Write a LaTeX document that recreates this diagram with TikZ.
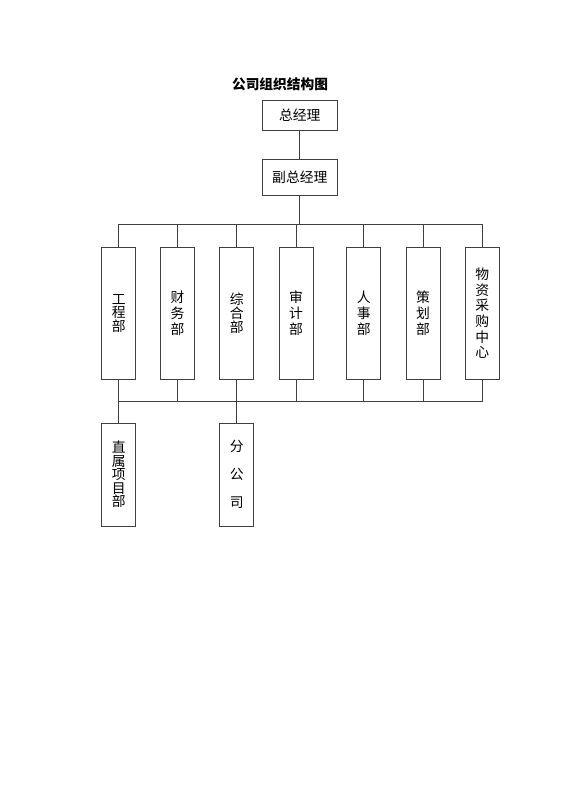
\documentclass[tikz,border=0pt]{standalone}
\usepackage{fontspec}
\setmainfont{Noto Sans CJK SC}
\begin{document}
\begin{tikzpicture}[x=1pt,y=-1pt,
  box/.style={draw=black!75, line width=0.8pt, fill=white, inner sep=0pt, font=\fontsize{13.8}{13.6}\selectfont, align=center},
  topbox/.style={box, minimum width=75pt},
  dept/.style={box, minimum width=34pt, minimum height=131.7pt},
  lowbox/.style={box, minimum width=34pt, minimum height=103pt},
  conn/.style={draw=black!75, line width=0.8pt}]
\useasboundingbox (0,0) rectangle (560,792);
\node (title) at (280,84) {\fontsize{13.7}{14}\selectfont\bfseries 公司组织结构图};
\node[topbox, minimum height=29.6pt] (gm) at (299.8,115.5) {\raisebox{-2pt}{总经理}};
\node[topbox, minimum height=36.7pt] (vgm) at (299.8,177.4) {副总经理};
\node[dept] (d1) at (118.7,313.2) {工\\程\\部};
\node[dept] (d2) at (177.5,313.2) {\raisebox{-4pt}{\shortstack{财\\务\\部}}};
\node[dept] (d3) at (236.7,313.2) {综\\合\\部};
\node[dept] (d4) at (296.1,313.2) {\raisebox{-4pt}{\shortstack{审\\计\\部}}};
\node[dept] (d5) at (363.7,313.2) {\raisebox{-4pt}{\shortstack{人\\事\\部}}};
\node[dept] (d6) at (423.0,313.2) {\raisebox{-3pt}{\shortstack{策\\划\\部}}};
\node[dept] (d7) at (482.3,313.2) {\raisebox{-3pt}{\shortstack{物\\资\\采\\购\\中\\心}}};
\node[lowbox] (p1) at (118.7,474.5) {直\\属\\项\\目\\部};
\node[lowbox, font=\fontsize{13.8}{28.3}\selectfont] (p2) at (236.7,474.5) {分\\公\\司};
\coordinate (busT) at (296.1,224.7);
\coordinate (busB) at (296.1,401.3);
\draw[conn] (gm.south) -- (gm.south |- vgm.north);
\draw[conn] (vgm.south) -- (vgm.south |- busT);
\draw[conn] (d1.north) |- (busT) -| (d7.north);
\foreach \d in {d2,d3,d4,d5,d6} \draw[conn] (\d.north) -- (\d.north |- busT);
\draw[conn] (d1.south) |- (busB) -| (d7.south);
\foreach \d in {d2,d3,d4,d5,d6} \draw[conn] (\d.south) -- (\d.south |- busB);
\draw[conn] (p1.north) -- (p1.north |- busB);
\draw[conn] (p2.north) -- (p2.north |- busB);
\end{tikzpicture}
\end{document}
